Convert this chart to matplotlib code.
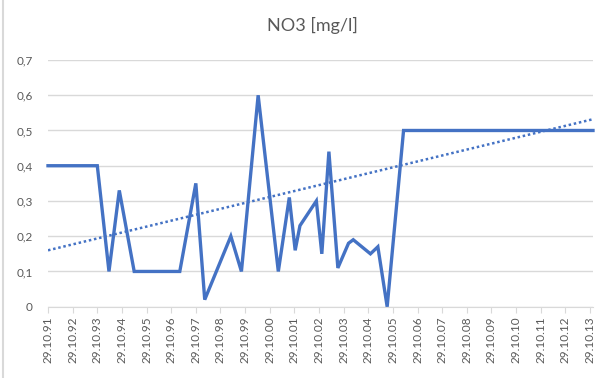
import numpy as np, pandas as pd
import matplotlib; matplotlib.use("Agg"); import matplotlib.pyplot as plt
import matplotlib.dates as mdates
from matplotlib.lines import Line2D

plt.rcParams["font.family"] = ["Lato", "DejaVu Sans"]

# NO3 samples (date, mg/l)
dates = ["1991-10-29", "1993-10-29", "1994-04-20", "1994-09-20", "1995-04-29", "1997-03-05",
         "1997-10-29", "1998-03-10", "1999-04-01", "1999-09-05", "2000-05-10", "2001-03-05",
         "2001-08-15", "2001-11-10", "2002-01-20", "2002-09-20", "2002-12-10", "2003-03-25",
         "2003-08-05", "2004-01-10", "2004-03-20", "2004-11-30", "2005-03-20", "2005-08-05",
         "2006-04-05", "2013-12-13"]
no3 = [0.40, 0.40, 0.10, 0.33, 0.10, 0.10,
       0.35, 0.02, 0.20, 0.10, 0.60, 0.10,
       0.31, 0.16, 0.23, 0.30, 0.15, 0.44,
       0.11, 0.18, 0.19, 0.15, 0.17, 0.00,
       0.50, 0.50]
# linear trend line end points (as drawn by the spreadsheet)
trend_dates = ["1991-10-29", "2013-12-13"]
trend_vals = [0.16, 0.532]
tick_dates = pd.date_range("1991-10-29", "2013-10-29", freq=pd.DateOffset(years=1))

x = pd.to_datetime(dates); xt = pd.to_datetime(trend_dates)

fig = plt.figure(figsize=(5.98, 3.78), dpi=100)
ax = fig.add_axes([48 / 598, 1 - 306.7 / 378, (593 - 48) / 598, (306.7 - 60) / 378])
blue = "#4472C4"; grey = "#595959"
ax.plot(xt, trend_vals, ls=(0, (1, 1.1)), lw=1.8, color=blue, zorder=3)
ax.plot(x, no3, lw=2.4, color=blue, zorder=4, solid_joinstyle="miter", clip_on=False)

ax.set_ylim(0, 0.7); ax.set_xlim(x[0], x[-1])
ax.set_yticks(np.arange(0, 0.71, 0.1))
ax.set_yticklabels(["0" if v == 0 else f"{v:.1f}".replace(".", ",") for v in np.arange(0, 0.71, 0.1)])
ax.set_xticks(tick_dates)
ax.xaxis.set_major_formatter(mdates.DateFormatter("%d.%m.%y"))
ax.grid(axis="y", color="#d9d9d9", lw=1)
ax.set_axisbelow(True)
for s in ["top", "right", "left"]:
    ax.spines[s].set_visible(False)
ax.spines["bottom"].set_color("#d9d9d9")
ax.tick_params(axis="y", length=0, labelsize=8.5, labelcolor=grey, pad=11)
ax.tick_params(axis="x", length=4, color="#d9d9d9", labelsize=8.5, labelcolor=grey, labelrotation=90, pad=3)
fig.text(312 / 598, 1 - 25 / 378, "NO3 [mg/l]", ha="center", va="center", fontsize=13, color=grey)
fig.add_artist(Line2D([3 / 598, 3 / 598], [0, 1], color="#d9d9d9", lw=1.5))
fig.savefig("out.png", dpi=100)
